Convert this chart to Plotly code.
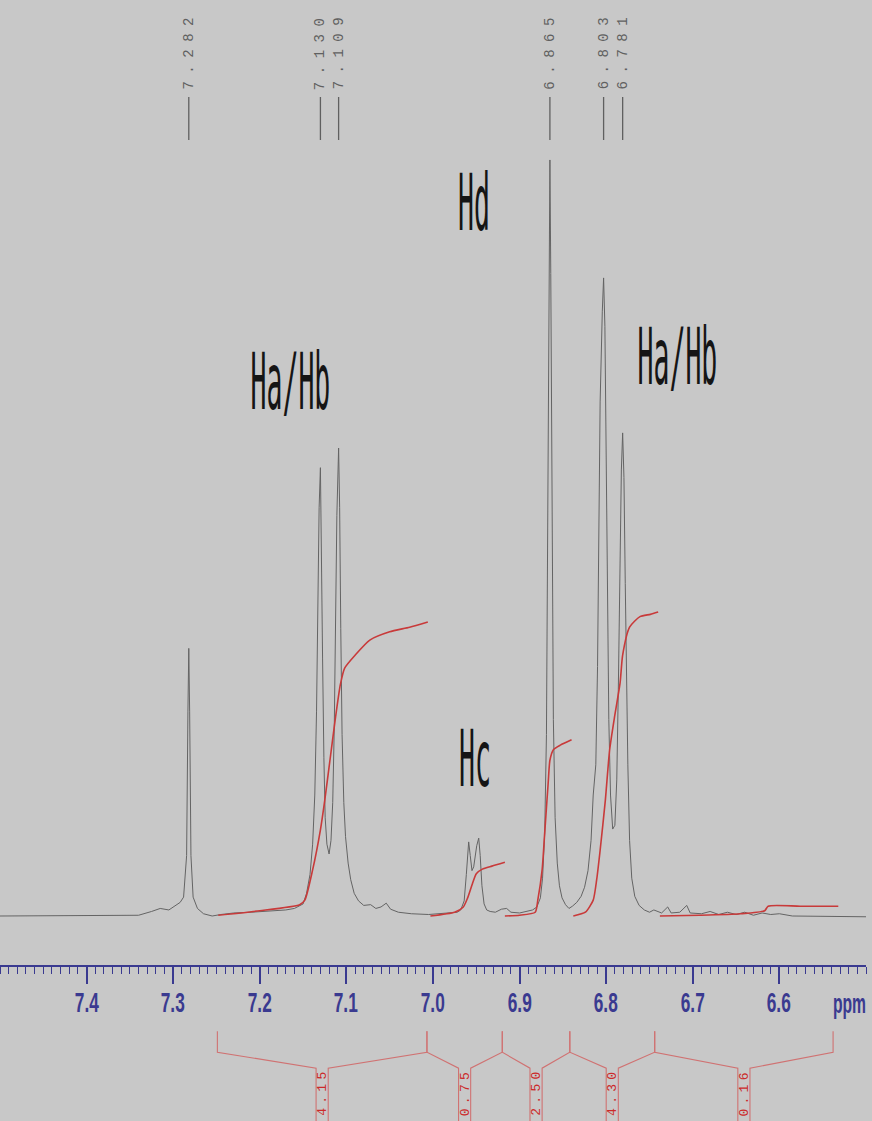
import json
import plotly.graph_objects as go

# ---------------- data ----------------
# 1H NMR trace (ppm, relative intensity; Hd peak = 100)
spec_ppm = [7.500, 7.400, 7.340, 7.325, 7.315, 7.305, 7.298, 7.292, 7.288, 7.2845,
            7.283, 7.282, 7.281, 7.2795, 7.277, 7.272, 7.265, 7.255, 7.245, 7.230,
            7.210, 7.190, 7.170, 7.160, 7.150, 7.146, 7.142, 7.139, 7.1365, 7.1345,
            7.133, 7.1315, 7.130, 7.1288, 7.1275, 7.126, 7.1245, 7.1225, 7.120, 7.1178,
            7.1158, 7.114, 7.1125, 7.111, 7.109, 7.1078, 7.1065, 7.105, 7.103, 7.101,
            7.098, 7.095, 7.091, 7.086, 7.080, 7.072, 7.066, 7.060, 7.054, 7.049,
            7.040, 7.025, 7.005, 6.985, 6.972, 6.968, 6.964, 6.9615, 6.9605, 6.9588,
            6.957, 6.955, 6.953, 6.9495, 6.9472, 6.9455, 6.9435, 6.941, 6.938, 6.934,
            6.928, 6.921, 6.915, 6.910, 6.900, 6.890, 6.885, 6.880, 6.876, 6.8735,
            6.871, 6.869, 6.8675, 6.866, 6.865, 6.864, 6.8625, 6.861, 6.859, 6.8565,
            6.854, 6.851, 6.847, 6.843, 6.839, 6.834, 6.829, 6.825, 6.821, 6.8175,
            6.815, 6.812, 6.810, 6.8085, 6.807, 6.8045, 6.803, 6.8015, 6.800, 6.7985,
            6.797, 6.795, 6.7925, 6.790, 6.7878, 6.786, 6.7842, 6.7825, 6.781, 6.7795,
            6.778, 6.7765, 6.775, 6.773, 6.7705, 6.767, 6.762, 6.756, 6.750, 6.745,
            6.736, 6.729, 6.725, 6.715, 6.707, 6.703, 6.690, 6.680, 6.670, 6.660,
            6.650, 6.640, 6.630, 6.620, 6.610, 6.600, 6.585, 6.500]
spec_int = [0.0, 0.1, 0.1, 0.6, 1.0, 0.8, 1.4, 1.8, 2.5, 8,
            27, 35.4, 27, 8, 2.5, 1.0, 0.3, 0.0, 0.2, 0.4,
            0.5, 0.6, 0.8, 1.0, 1.6, 3.0, 5.5, 9.5, 16, 27,
            40, 54, 59.3, 50, 34, 21, 13, 9.5, 8.2, 10,
            15, 25, 38, 53, 61.9, 54, 38, 24, 15, 10.5,
            7, 4.8, 3.0, 2.0, 1.4, 1.5, 1.0, 1.2, 1.7, 0.9,
            0.5, 0.3, 0.2, 0.4, 0.5, 0.8, 2.0, 5.5, 7.5, 9.8,
            8, 6, 6.5, 9.3, 10.3, 8, 4, 1.6, 0.8, 0.6,
            0.5, 0.9, 1.0, 0.5, 0.4, 0.6, 0.8, 1.2, 2.4, 5,
            11, 24, 50, 85, 100, 85, 50, 26, 13, 7,
            4, 2.4, 1.5, 1.0, 1.3, 1.8, 2.6, 3.8, 6, 10,
            16, 20, 33, 50, 68, 80, 84.4, 78, 62, 42,
            26, 16, 11.5, 12, 18, 30, 46, 59, 63.9, 58,
            44, 30, 20, 10, 5, 2.6, 1.4, 0.8, 0.5, 0.8,
            0.4, 1.2, 0.4, 0.5, 1.4, 0.4, 0.3, 0.6, 0.2, 0.5,
            0.2, 0.5, 0.1, 0.4, 0.2, 0.3, 0.0, -0.1]

# integral curves (ppm, running integral in the same intensity units)
int1_ppm = [7.248, 7.200, 7.154, 7.148, 7.139, 7.130, 7.125, 7.119, 7.113, 7.107,
            7.102, 7.090, 7.073, 7.050, 7.027, 7.006]
int1_val = [0.1, 0.7, 1.5, 2.1, 6.1, 11.4, 15.3, 20.6, 25.9, 30.6,
            32.8, 34.5, 36.5, 37.6, 38.2, 38.9]
int2_ppm = [7.003, 6.975, 6.965, 6.960, 6.955, 6.950, 6.943, 6.932, 6.917]
int2_val = [0.0, 0.5, 1.2, 2.4, 4.1, 5.6, 6.2, 6.6, 7.1]
int3_ppm = [6.917, 6.900, 6.882, 6.879, 6.874, 6.871, 6.867, 6.865, 6.861, 6.853, 6.840]
int3_val = [0.0, 0.1, 0.5, 2.1, 6.1, 11.0, 17.6, 20.6, 22.0, 22.6, 23.3]
int4_ppm = [6.838, 6.824, 6.815, 6.811, 6.807, 6.801, 6.796, 6.790, 6.784, 6.781,
            6.773, 6.761, 6.749, 6.740]
int4_val = [0.0, 0.5, 2.1, 4.8, 8.7, 15.3, 22.0, 26.6, 30.8, 34.5,
            38.2, 39.6, 39.9, 40.2]
int5_ppm = [6.738, 6.692, 6.645, 6.617, 6.613, 6.576, 6.532]
int5_val = [0.0, 0.1, 0.3, 0.7, 1.3, 1.3, 1.3]

# picked peaks
peak_ppm = [7.282, 7.130, 7.109, 6.865, 6.803, 6.781]

# integration regions and values
region_breaks = [7.249, 7.007, 6.920, 6.842, 6.744, 6.538]
region_values = ["4.15", "0.75", "2.50", "4.30", "0.16"]

# assignment labels
label_text = ["Ha/Hb", "Hd", "Hc", "Ha/Hb"]
label_ppm = [7.164, 6.953, 6.951, 6.718]
label_int = [70.6, 94.3, 20.8, 73.9]

# axis ticks
tick_vals = [7.4, 7.3, 7.2, 7.1, 7.0, 6.9, 6.8, 6.7, 6.6]
tick_text = ["7.4", "7.3", "7.2", "7.1", "7.0", "6.9", "6.8", "6.7", "6.6"]
unit_text = "ppm"

# ---------------- styling ----------------
W, H = 872, 1121
BG = "#c8c8c8"
SPEC_COL = "#646464"
INT_COL = "#c83a3a"
BRK_COL = "#d07272"
AX_COL = "#3a3a90"
PK_COL = "#606060"
AXIS_PY = 965            # pixel row of the ppm axis
main_frac = AXIS_PY / H
AX_FONT = "Liberation Sans, Arial, sans-serif"

fig = go.Figure()

fig.add_trace(go.Scatter(x=spec_ppm, y=spec_int, mode="lines",
                         line=dict(color=SPEC_COL, width=1.0), hoverinfo="skip"))

for xs, ys in [(int1_ppm, int1_val), (int2_ppm, int2_val), (int3_ppm, int3_val),
               (int4_ppm, int4_val), (int5_ppm, int5_val)]:
    fig.add_trace(go.Scatter(x=xs, y=ys, mode="lines",
                             line=dict(color=INT_COL, width=1.6, shape="spline", smoothing=0.6),
                             hoverinfo="skip"))

# integral brackets on a lower helper axis (units = pixels below the ppm axis)
TICK_TOP, JOINT, BOX_TOP, BOX_BOT = 66, 87, 103, 160
HALF = 0.007
bx, by = [], []
for i in range(len(region_values)):
    a, b = region_breaks[i], region_breaks[i + 1]
    c = (a + b) / 2
    bx += [a, a, c + HALF, c + HALF, None, c - HALF, c - HALF, b, b, None]
    by += [TICK_TOP, JOINT, BOX_TOP, BOX_BOT, None, BOX_BOT, BOX_TOP, JOINT, TICK_TOP, None]
fig.add_trace(go.Scatter(x=bx, y=by, xaxis="x", yaxis="y2", mode="lines",
                         line=dict(color=BRK_COL, width=1.1), hoverinfo="skip"))

annotations = []
squeeze = {}      # annotation index -> horizontal scale
spacing = {}      # annotation index -> letter spacing (px)

# assignment labels
for t, px_, py_ in zip(label_text, label_ppm, label_int):
    squeeze[len(annotations)] = 0.34
    annotations.append(dict(x=px_, y=py_, xref="x", yref="y", text=t, showarrow=False,
                            yshift=0,
                            font=dict(family="DejaVu Sans Mono", size=78, color="#151515")))
# peak labels (rotated)
shapes = []
for p in peak_ppm:
    spacing[len(annotations)] = 7.5
    annotations.append(dict(x=p, y=1 - 50 / H, xref="x", yref="paper", text=f"{p:.3f}",
                            showarrow=False, textangle=-90, yanchor="middle",
                            font=dict(family="Liberation Mono, DejaVu Sans Mono", size=14,
                                      color=PK_COL)))
    shapes.append(dict(type="line", xref="x", yref="paper", x0=p, x1=p,
                       y0=1 - 97 / H, y1=1 - 140 / H, line=dict(color=PK_COL, width=1.3)))
# integral values
for i, v in enumerate(region_values):
    c = (region_breaks[i] + region_breaks[i + 1]) / 2
    spacing[len(annotations)] = 4.3
    annotations.append(dict(x=c, y=127, xref="x", yref="y2", text=v, showarrow=False,
                            textangle=-90, yanchor="middle",
                            font=dict(family="Liberation Mono, DejaVu Sans Mono", size=13,
                                      color="#cc2a2a")))
# axis tick labels (condensed bold)
for tv, tt in zip(tick_vals, tick_text):
    squeeze[len(annotations)] = 0.64
    annotations.append(dict(x=tv, y=38, xref="x", yref="y2", text=tt, showarrow=False,
                            font=dict(family=AX_FONT, size=27, color=AX_COL, weight="bold")))
# axis unit
squeeze[len(annotations)] = 0.58
annotations.append(dict(x=6.519, y=39, xref="x", yref="y2", text=unit_text, showarrow=False,
                        font=dict(family=AX_FONT, size=27, color=AX_COL, weight="bold")))

fig.update_layout(
    width=W, height=H,
    margin=dict(l=0, r=6, t=0, b=0),
    paper_bgcolor=BG, plot_bgcolor=BG,
    showlegend=False,
    xaxis=dict(range=[7.5, 6.5], domain=[0, 1], anchor="y",
               showgrid=False, zeroline=False,
               showline=True, linecolor=AX_COL, linewidth=2,
               ticks="outside", ticklen=17, tickwidth=1.5, tickcolor=AX_COL,
               tickvals=tick_vals, showticklabels=False,
               minor=dict(dtick=0.01, tick0=6.5, ticks="outside", ticklen=7,
                          tickwidth=1.2, tickcolor=AX_COL, showgrid=False)),
    yaxis=dict(domain=[1 - main_frac, 1], range=[-6.48, 121.16], visible=False,
               fixedrange=True),
    yaxis2=dict(domain=[0, 1 - main_frac - 0.0005], range=[156, 0], visible=False,
                anchor="x"),
    annotations=annotations,
    shapes=shapes,
)

js = """
(function(){
  var gd = document.getElementById('{plot_id}');
  var SQ = %s, SP = %s;
  function fix(){
    if(!gd) return;
    gd.querySelectorAll('g.annotation').forEach(function(g){
      var i = g.getAttribute('data-index');
      var t = g.querySelector('text.annotation-text');
      if(!t) return;
      if(SQ[i] !== undefined){
        t.style.transformBox = 'fill-box';
        t.style.transformOrigin = '50%% 50%%';
        t.style.transform = 'scaleX(' + SQ[i] + ')';
      }
      if(SP[i] !== undefined){
        t.style.letterSpacing = SP[i] + 'px';
      }
    });
  }
  fix(); setTimeout(fix, 50); setTimeout(fix, 300);
  if(gd && gd.on){ gd.on('plotly_afterplot', fix); }
})();
""" % (json.dumps({str(k): v for k, v in squeeze.items()}),
       json.dumps({str(k): v for k, v in spacing.items()}))

fig.write_html("out.html", post_script=js)
